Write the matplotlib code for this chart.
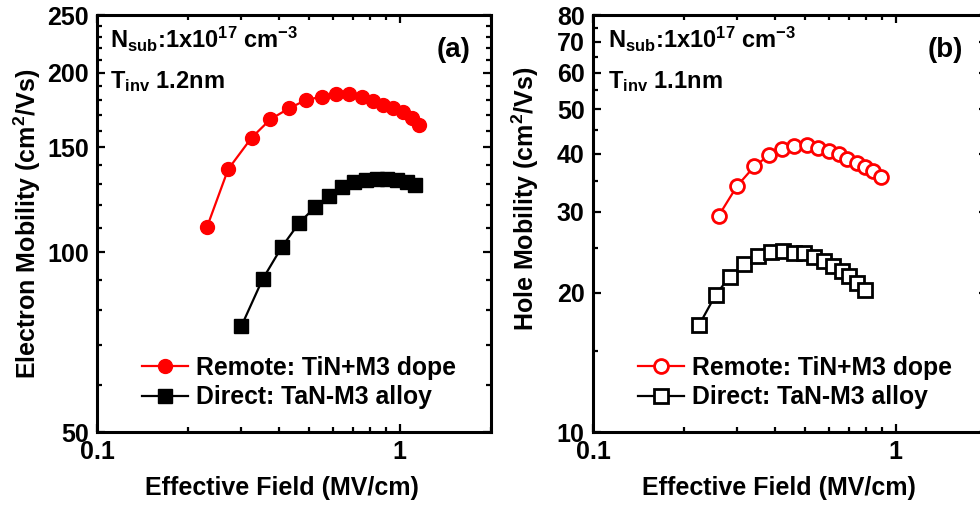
import numpy as np
import matplotlib
matplotlib.use("Agg")
import matplotlib.pyplot as plt
from matplotlib.ticker import FixedLocator, NullFormatter, FixedFormatter

plt.rcParams['font.family'] = ['Liberation Sans', 'DejaVu Sans']
plt.rcParams['font.weight'] = 'bold'
plt.rcParams['mathtext.fontset'] = 'custom'
plt.rcParams['mathtext.rm'] = 'Liberation Sans:bold'
plt.rcParams['mathtext.bf'] = 'Liberation Sans:bold'
plt.rcParams['mathtext.it'] = 'Liberation Sans:bold'
plt.rcParams['mathtext.default'] = 'rm'

# (a) electron mobility vs effective field
e_field_remote = [0.231, 0.271, 0.324, 0.374, 0.431, 0.490, 0.552, 0.614, 0.679,
                  0.751, 0.817, 0.881, 0.950, 1.026, 1.093, 1.155]
e_mu_remote = [110.4, 137.8, 155.7, 167.2, 174.4, 180.1, 182.4, 184.1, 184.1,
               182.4, 179.6, 176.6, 174.4, 171.7, 167.8, 163.5]
e_field_direct = [0.300, 0.352, 0.407, 0.464, 0.524, 0.584, 0.642, 0.705, 0.772,
                  0.838, 0.904, 0.975, 1.052, 1.121]
e_mu_direct = [75.3, 90.1, 102.0, 111.9, 119.0, 124.3, 128.7, 131.0, 132.2,
               132.8, 132.8, 132.2, 131.2, 129.7]

# (b) hole mobility vs effective field
h_field_remote = [0.260, 0.299, 0.341, 0.382, 0.420, 0.460, 0.510, 0.552, 0.600,
                  0.649, 0.692, 0.743, 0.791, 0.841, 0.894]
h_mu_remote = [29.4, 34.1, 37.6, 39.8, 41.0, 41.6, 41.8, 41.2, 40.7,
               40.0, 39.1, 38.3, 37.5, 36.7, 35.7]
h_field_direct = [0.224, 0.254, 0.283, 0.316, 0.350, 0.386, 0.424, 0.460, 0.497,
                  0.536, 0.579, 0.622, 0.663, 0.701, 0.743, 0.791]
h_mu_direct = [17.05, 19.81, 21.7, 23.1, 24.06, 24.58, 24.66, 24.45, 24.45,
               23.98, 23.47, 22.89, 22.36, 21.78, 21.06, 20.3]

label_remote = 'Remote: TiN+M3 dope'
label_direct = 'Direct: TaN-M3 alloy'

x_major = [0.1, 1]
x_major_labels = ['0.1', '1']
x_minor = [0.2, 0.3, 0.4, 0.5, 0.6, 0.7, 0.8, 0.9, 2]

e_y_major = [50, 100, 150, 200, 250]
e_y_minor = [60, 70, 80, 90, 110, 120, 130, 140, 160, 170, 180, 190, 210, 220, 230, 240]
h_y_major = [10, 20, 30, 40, 50, 60, 70, 80]
h_y_minor = [15, 25, 35, 45, 55, 65, 75]

RED = '#ff0000'
FS = 18
LEG_FS = 17.8
NOTE_FS = 17

fig = plt.figure(figsize=(9.8, 5.08), dpi=100)
axA = fig.add_axes([97 / 980, 76 / 508, 394 / 980, 417 / 508])
axB = fig.add_axes([593 / 980, 76 / 508, 394 / 980, 417 / 508])


def style_axes(ax, ymajor, yminor, ylim):
    ax.set_xscale('log')
    ax.set_yscale('log')
    ax.set_xlim(0.1, 2)
    ax.set_ylim(*ylim)
    ax.xaxis.set_major_locator(FixedLocator(x_major))
    ax.xaxis.set_major_formatter(FixedFormatter(x_major_labels))
    ax.xaxis.set_minor_locator(FixedLocator(x_minor))
    ax.xaxis.set_minor_formatter(NullFormatter())
    ax.yaxis.set_major_locator(FixedLocator(ymajor))
    ax.yaxis.set_major_formatter(FixedFormatter([str(v) for v in ymajor]))
    ax.yaxis.set_minor_locator(FixedLocator(yminor))
    ax.yaxis.set_minor_formatter(NullFormatter())
    for s in ax.spines.values():
        s.set_linewidth(2.2)
    ax.tick_params(which='both', direction='in', top=True, right=True,
                   labelsize=FS, width=1.6)
    ax.tick_params(which='major', length=6, pad=6)
    ax.tick_params(which='minor', length=3.5)
    for lab in ax.get_xticklabels() + ax.get_yticklabels():
        lab.set_fontweight('bold')


def add_legend(ax):
    ax.legend(loc='lower left', bbox_to_anchor=(0.07, 0.013), frameon=False,
              handlelength=1.85, handletextpad=0.32,
              labelspacing=0.22, borderpad=0.2,
              prop={'weight': 'bold', 'size': LEG_FS})


# panel (a)
style_axes(axA, e_y_major, e_y_minor, (50, 250))
axA.plot(e_field_remote, e_mu_remote, '-o', color=RED, lw=1.6, ms=10,
         mfc=RED, mec=RED, label=label_remote)
axA.plot(e_field_direct, e_mu_direct, '-s', color='black', lw=1.6, ms=10.5,
         mfc='black', mec='black', label=label_direct)
axA.set_xlabel('Effective Field (MV/cm)', fontsize=FS, fontweight='bold')
axA.set_ylabel('Electron Mobility (cm$^2$/Vs)', fontsize=FS, fontweight='bold')
axA.xaxis.set_label_coords(0.47, -0.106)
axA.yaxis.set_label_coords(-0.138, 0.5)
axA.text(0.033, 0.921, r'N$_{sub}$:1x10$^{17}$ cm$^{-3}$', transform=axA.transAxes,
         fontsize=NOTE_FS, fontweight='bold', va='baseline', ha='left')
axA.text(0.033, 0.825, r'T$_{inv}$ 1.2nm', transform=axA.transAxes,
         fontsize=NOTE_FS, fontweight='bold', va='baseline', ha='left')
axA.text(0.947, 0.899, '(a)', transform=axA.transAxes,
         fontsize=20, fontweight='bold', va='baseline', ha='right')
add_legend(axA)

# panel (b)
style_axes(axB, h_y_major, h_y_minor, (10, 80))
axB.plot(h_field_remote, h_mu_remote, '-o', color=RED, lw=1.6, ms=10,
         mfc='white', mec=RED, mew=2, label=label_remote)
axB.plot(h_field_direct, h_mu_direct, '-s', color='black', lw=1.6, ms=9.5,
         mfc='white', mec='black', mew=2, label=label_direct)
axB.set_xlabel('Effective Field (MV/cm)', fontsize=FS, fontweight='bold')
axB.set_ylabel('Hole Mobility (cm$^2$/Vs)', fontsize=FS, fontweight='bold')
axB.xaxis.set_label_coords(0.471, -0.106)
axB.yaxis.set_label_coords(-0.132, 0.56)
axB.text(0.038, 0.921, r'N$_{sub}$:1x10$^{17}$ cm$^{-3}$', transform=axB.transAxes,
         fontsize=NOTE_FS, fontweight='bold', va='baseline', ha='left')
axB.text(0.038, 0.825, r'T$_{inv}$ 1.1nm', transform=axB.transAxes,
         fontsize=NOTE_FS, fontweight='bold', va='baseline', ha='left')
axB.text(0.939, 0.899, '(b)', transform=axB.transAxes,
         fontsize=20, fontweight='bold', va='baseline', ha='right')
add_legend(axB)

fig.savefig('out.png', dpi=100)
